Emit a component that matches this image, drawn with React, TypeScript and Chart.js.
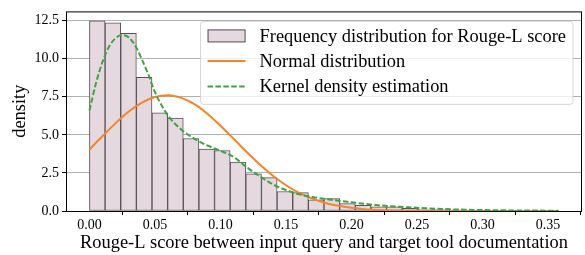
import { useEffect, useRef } from "react";
import { Chart, registerables } from "chart.js";

Chart.register(...registerables);

// ---- data ----
const binCount = 30;
const scoreMin = 0;
const scoreMax = 0.358;
const histDensity = [
  12.48, 12.35, 11.67, 8.78, 6.44, 6.1, 4.76, 4.06, 3.97, 3.21,
  2.44, 2.19, 1.28, 1.21, 0.74, 0.81, 0.48, 0.38, 0.28, 0.27,
  0.17, 0.13, 0.1, 0.08, 0.04, 0.03, 0.02, 0.02, 0.01, 0.01,
];
const normalX = [
  0, 0.01, 0.02, 0.03, 0.04, 0.05, 0.06, 0.07, 0.08, 0.09, 0.1, 0.11, 0.12,
  0.13, 0.14, 0.15, 0.16, 0.17, 0.18, 0.19, 0.2, 0.21, 0.22, 0.23, 0.24, 0.25,
  0.26, 0.28, 0.3, 0.32, 0.34, 0.358,
];
const normalY = [
  4.04, 4.92, 5.77, 6.53, 7.12, 7.49, 7.6, 7.43, 7.02, 6.39, 5.6, 4.74, 3.87,
  3.05, 2.31, 1.69, 1.19, 0.81, 0.53, 0.34, 0.21, 0.12, 0.07, 0.04, 0.02, 0.01,
  0.005, 0, 0, 0, 0, 0,
];
const kdeX = [
  0, 0.005, 0.01, 0.015, 0.02, 0.025, 0.03, 0.035, 0.04, 0.045, 0.05, 0.055,
  0.06, 0.07, 0.08, 0.09, 0.1, 0.11, 0.12, 0.13, 0.14, 0.15, 0.16, 0.17, 0.18,
  0.19, 0.2, 0.21, 0.22, 0.23, 0.24, 0.25, 0.26, 0.27, 0.28, 0.29, 0.3, 0.31,
  0.32, 0.33, 0.34, 0.35, 0.358,
];
const kdeY = [
  6.6, 8.4, 9.8, 10.8, 11.35, 11.55, 11.4, 10.85, 9.95, 8.95, 7.8, 6.95, 6.25,
  5.35, 4.75, 4.3, 3.95, 3.55, 2.88, 2.28, 1.75, 1.38, 1.1, 0.92, 0.79, 0.67,
  0.57, 0.47, 0.38, 0.31, 0.26, 0.21, 0.17, 0.13, 0.1, 0.08, 0.06, 0.05, 0.04,
  0.03, 0.03, 0.02, 0.02,
];
const xTicks = [0, 0.05, 0.1, 0.15, 0.2, 0.25, 0.3, 0.35];
const yTicks = [0, 2.5, 5, 7.5, 10, 12.5];
const legendLabels = [
  "Frequency distribution for Rouge-L score",
  "Normal distribution",
  "Kernel density estimation",
];
const xTitle = "Rouge-L score between input query and target tool documentation";
const yTitle = "density";

const SERIF = "'Liberation Serif', 'Times New Roman', Times, serif";
const BAR_FILL = "rgb(229,216,223)";
const BAR_EDGE = "rgb(88,80,86)";
const ORANGE = "#f5842a";
const GREEN = "#43a046";

const legendPlugin = {
  id: "mplLegend",
  afterDraw(chart: any) {
    const ctx = chart.ctx as CanvasRenderingContext2D;
    const ca = chart.chartArea;
    ctx.save();
    // frame (all four spines)
    ctx.strokeStyle = "#000";
    ctx.lineWidth = 1;
    ctx.strokeRect(ca.left + 0.5, ca.top + 0.5, ca.right - ca.left - 1, ca.bottom - ca.top);

    ctx.font = `18.4px ${SERIF}`;
    const textW = Math.max(...legendLabels.map((l) => ctx.measureText(l).width));
    const padL = 7;
    const handleW = 38;
    const gap = 14;
    const padR = 7;
    const boxW = padL + handleW + gap + textW + padR;
    const right = ca.right - 9;
    const left = right - boxW;
    const top = ca.top + 10;
    const boxH = 83;
    const r = 3;
    ctx.beginPath();
    ctx.moveTo(left + r, top);
    ctx.lineTo(left + boxW - r, top);
    ctx.arcTo(left + boxW, top, left + boxW, top + r, r);
    ctx.lineTo(left + boxW, top + boxH - r);
    ctx.arcTo(left + boxW, top + boxH, left + boxW - r, top + boxH, r);
    ctx.lineTo(left + r, top + boxH);
    ctx.arcTo(left, top + boxH, left, top + boxH - r, r);
    ctx.lineTo(left, top + r);
    ctx.arcTo(left, top, left + r, top, r);
    ctx.closePath();
    ctx.fillStyle = "rgba(255,255,255,0.8)";
    ctx.fill();
    ctx.strokeStyle = "rgba(204,204,204,0.8)";
    ctx.lineWidth = 1;
    ctx.stroke();

    const rows = [top + 14.5, top + 39.5, top + 65];
    const hx = left + padL;
    // patch
    ctx.fillStyle = BAR_FILL;
    ctx.fillRect(hx, rows[0] - 6.5, handleW, 13);
    ctx.strokeStyle = BAR_EDGE;
    ctx.lineWidth = 1;
    ctx.strokeRect(hx + 0.5, rows[0] - 6.5 + 0.5, handleW - 1, 12);
    // normal line
    ctx.strokeStyle = ORANGE;
    ctx.lineWidth = 2;
    ctx.beginPath();
    ctx.moveTo(hx, rows[1]);
    ctx.lineTo(hx + handleW, rows[1]);
    ctx.stroke();
    // kde line
    ctx.strokeStyle = GREEN;
    ctx.setLineDash([5.5, 2.4]);
    ctx.beginPath();
    ctx.moveTo(hx, rows[2]);
    ctx.lineTo(hx + handleW, rows[2]);
    ctx.stroke();
    ctx.setLineDash([]);

    ctx.fillStyle = "#000";
    ctx.textBaseline = "middle";
    ctx.textAlign = "left";
    legendLabels.forEach((l, i) => {
      ctx.fillText(l, hx + handleW + gap, rows[i] + 1);
    });
    ctx.restore();
  },
};

export default function App() {
  const ref = useRef<HTMLCanvasElement | null>(null);
  useEffect(() => {
    document.body.style.margin = "0";
    const binW = (scoreMax - scoreMin) / binCount;
    const bars = histDensity.map((y, i) => ({ x: scoreMin + (i + 0.5) * binW, y }));
    const normal = normalX.map((x, i) => ({ x, y: normalY[i] }));
    const kde = kdeX.map((x, i) => ({ x, y: kdeY[i] }));
    const margin = (scoreMax - scoreMin) * 0.05;
    const yMax = Math.max(...histDensity) * 1.05;

    const chart = new Chart(ref.current!, {
      type: "bar",
      data: {
        datasets: [
          {
            type: "line",
            label: legendLabels[2],
            data: kde,
            borderColor: GREEN,
            borderWidth: 2,
            borderDash: [5.5, 2.4],
            pointRadius: 0,
            cubicInterpolationMode: "monotone",
            order: 0,
          } as any,
          {
            type: "line",
            label: legendLabels[1],
            data: normal,
            borderColor: ORANGE,
            borderWidth: 2,
            pointRadius: 0,
            cubicInterpolationMode: "monotone",
            order: 1,
          } as any,
          {
            type: "bar",
            label: legendLabels[0],
            data: bars,
            backgroundColor: BAR_FILL,
            borderColor: BAR_EDGE,
            borderWidth: 1,
            borderSkipped: false,
            barPercentage: 1,
            categoryPercentage: 1,
            order: 2,
          } as any,
        ],
      },
      options: {
        animation: false,
        responsive: false,
        events: [],
        layout: { padding: { top: 5, right: 3, left: 0, bottom: 0 } },
        plugins: { legend: { display: false }, tooltip: { enabled: false } },
        scales: {
          x: {
            type: "linear",
            min: scoreMin - margin,
            max: scoreMax + margin,
            offset: false,
            afterBuildTicks: (s: any) => {
              s.ticks = xTicks.map((v) => ({ value: v }));
            },
            afterFit: (s: any) => {
              s.height = 44;
            },
            ticks: {
              color: "#000",
              font: { family: SERIF, size: 14 },
              padding: 2,
              maxRotation: 0,
              autoSkip: false,
              callback: (v: any) => Number(v).toFixed(2),
            },
            grid: {
              drawOnChartArea: false,
              drawTicks: true,
              tickLength: 4,
              tickColor: "#000",
              color: "#000",
            },
            border: { display: false },
            title: {
              display: true,
              text: xTitle,
              color: "#000",
              font: { family: SERIF, size: 18.4 },
              padding: { top: 0, bottom: 1 },
            },
          },
          y: {
            type: "linear",
            min: 0,
            max: yMax,
            afterBuildTicks: (s: any) => {
              s.ticks = yTicks.map((v) => ({ value: v }));
            },
            afterFit: (s: any) => {
              s.width = 66;
            },
            ticks: {
              color: "#000",
              font: { family: SERIF, size: 14 },
              padding: 3,
              callback: (v: any) => Number(v).toFixed(1),
            },
            grid: {
              color: "#b0b0b0",
              lineWidth: 1,
              tickLength: 4,
              tickColor: "#000",
            },
            border: { display: false },
            title: {
              display: true,
              text: yTitle,
              color: "#000",
              font: { family: SERIF, size: 18.4 },
              padding: { top: 9, bottom: 0 },
            },
          },
        },
      },
      plugins: [legendPlugin],
    });
    return () => chart.destroy();
  }, []);
  return (
    <div style={{ width: 585, height: 255 }}>
      <canvas ref={ref} width={585} height={255} style={{ display: "block" }} />
    </div>
  );
}
